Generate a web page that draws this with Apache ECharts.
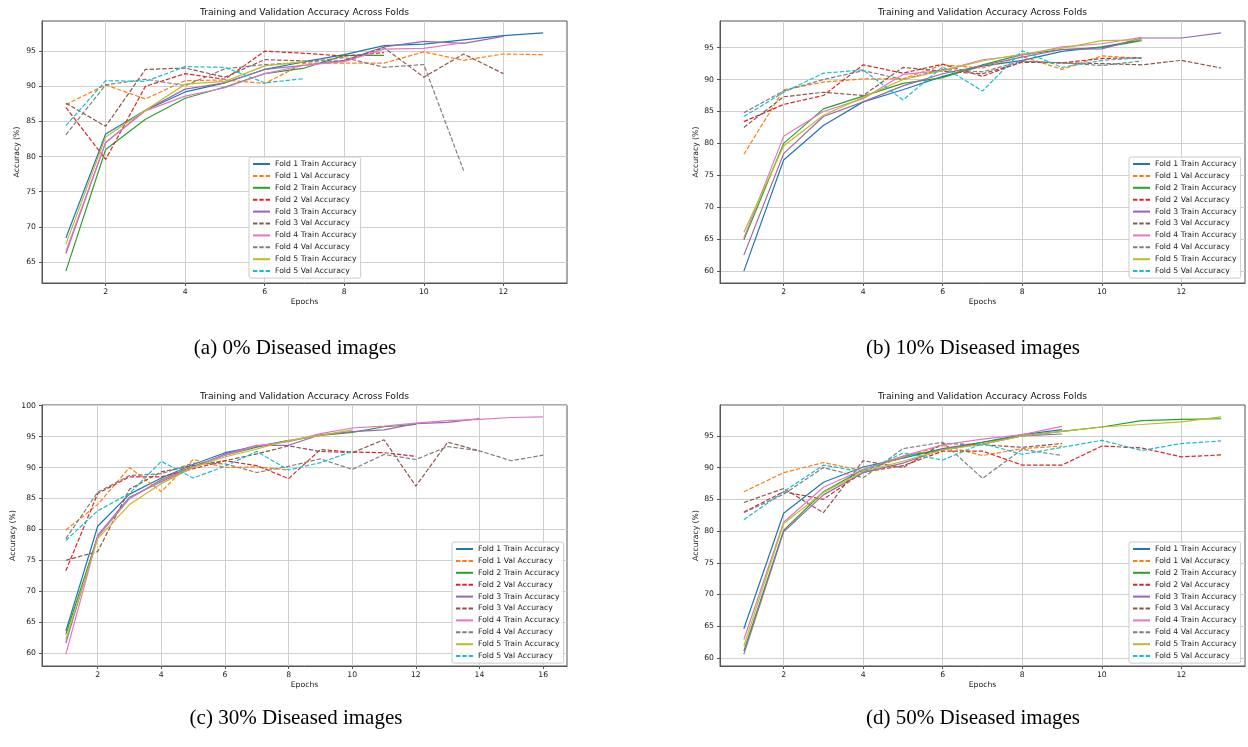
<!DOCTYPE html>
<html>
<head>
<meta charset="utf-8">
<title>Training and Validation Accuracy Across Folds</title>
<script src="https://cdn.jsdelivr.net/npm/echarts@6/dist/echarts.min.js"></script>
<style>
html,body{margin:0;padding:0;background:#fff;}
#chartmain{width:1248px;height:747px;}
</style>
</head>
<body>
<div id="chartmain"></div>
<script>
var seriesNames=['Fold 1 Train Accuracy','Fold 1 Val Accuracy','Fold 2 Train Accuracy','Fold 2 Val Accuracy',
	'Fold 3 Train Accuracy','Fold 3 Val Accuracy','Fold 4 Train Accuracy','Fold 4 Val Accuracy',
	'Fold 5 Train Accuracy','Fold 5 Val Accuracy'];
var colors=['#1f77b4','#ff7f0e','#2ca02c','#d62728','#9467bd','#8c564b','#e377c2','#7f7f7f','#bcbd22','#17becf'];
var captions=['(a) 0% Diseased images','(b) 10% Diseased images','(c) 30% Diseased images','(d) 50% Diseased images'];

// (a) 0% diseased, one list per fold, epoch 1..n
var train0=[
	[68.4,83.2,86.6,89.2,90.5,92.4,93.5,94.5,95.8,96.0,96.6,97.2,97.6],
	[63.7,81.0,85.3,88.3,89.9,91.8,92.6,94.4,94.4],
	[66.2,82.0,86.6,89.6,90.5,92.4,93.0,93.7,95.6,96.4,96.1,97.1],
	[66.5,82.0,86.5,88.6,89.8,91.8,93.0,93.5,95.3,95.4,96.2],
	[67.5,82.8,86.6,90.3,90.7,92.9,93.5]
];
var val0=[
	[87.4,90.2,88.2,90.8,90.9,90.4,93.3,93.3,93.3,94.9,93.7,94.6,94.5],
	[87.0,79.6,90.0,91.8,91.0,95.0,94.7,94.3,94.8],
	[87.6,84.3,92.4,92.6,91.3,93.8,93.6,93.6,95.5,91.3,94.6,91.8],
	[83.1,90.2,91.0,90.1,92.5,93.1,93.4,94.1,92.7,93.1,78.0],
	[84.4,90.8,90.7,92.8,92.7,90.5,91.1]
];
// (b) 10% diseased
var train10=[
	[60.0,77.4,82.8,86.5,88.4,90.5,92.1,93.0,94.4,95.1,96.2],
	[64.9,80.0,85.4,87.4,89.4,90.3,92.3,93.9,94.7,95.0,96.1],
	[62.5,78.4,84.2,86.5,89.0,90.9,92.2,93.5,94.7,94.8,96.5,96.5,97.3],
	[65.2,81.1,85.0,87.0,90.8,91.4,93.1,93.8,95.1,95.6,96.6],
	[66.1,79.6,84.4,87.2,90.0,91.4,92.9,94.0,94.9,96.1,96.2]
];
var val10=[
	[78.3,88.4,89.6,90.1,90.1,92.3,91.8,93.6,91.6,93.7,93.3],
	[83.4,86.1,87.5,92.3,91.0,92.4,90.5,92.8,92.6,93.3,93.4],
	[82.5,87.3,88.0,87.5,91.9,91.3,90.9,92.7,92.6,92.5,92.3,93.0,91.8],
	[84.8,88.2,90.0,91.4,90.0,91.6,91.2,92.9,92.6,92.2,92.9],
	[84.2,88.0,91.0,91.5,86.8,92.0,88.2,94.5,91.9,93.0,93.4]
];
// (c) 30% diseased
var train30=[
	[63.5,80.5,85.7,88.3,90.5,92.4,93.4,94.4],
	[63.0,78.8,85.0,88.0,90.2,92.0,93.3,94.3,95.2,95.7,96.6,97.0],
	[61.6,79.0,85.2,87.7,90.0,92.2,93.6,93.6,95.3,95.8,96.1,97.1,97.3,97.9],
	[59.8,78.8,85.0,87.9,90.1,92.0,93.5,94.2,95.5,96.4,96.7,97.2,97.6,97.8,98.1,98.2],
	[62.2,78.5,84.0,87.4,90.0,91.7,93.0,94.4,95.2,96.1]
];
var val30=[
	[79.9,84.0,90.0,86.1,91.3,90.0,90.1,89.6],
	[73.3,85.8,88.5,88.5,89.8,91.1,90.3,88.2,92.9,92.5,92.4,91.8],
	[75.0,76.4,86.5,89.3,90.3,91.1,92.2,93.5,92.6,92.4,94.5,87.0,94.1,92.7],
	[78.5,86.0,88.7,89.0,90.7,90.6,89.2,90.2,91.4,89.7,92.1,91.3,93.4,92.7,91.1,92.0],
	[78.2,83.0,85.8,91.0,88.3,90.2,92.6,89.6,90.8,92.6]
];
// (d) 50% diseased
var train50=[
	[64.6,82.8,87.7,90.1,91.5,93.0,94.0,95.2,96.0],
	[61.1,80.1,86.2,89.7,91.8,92.8,94.0,95.0,95.7,96.4,97.4,97.6,97.7],
	[60.6,79.9,85.7,89.2,90.7,92.9,93.7,95.0,95.3],
	[62.9,81.4,86.9,89.7,91.8,93.6,94.5,95.2,96.5],
	[61.9,81.2,86.1,89.4,91.0,92.8,93.7,95.0,95.7,96.4,96.8,97.2,98.0]
];
var val50=[
	[86.2,89.2,90.8,89.5,91.6,93.5,91.9,93.0,93.4],
	[83.0,86.2,85.0,89.3,90.3,92.6,92.6,90.4,90.4,93.4,93.1,91.7,92.0],
	[84.5,86.7,82.9,91.1,90.0,93.8,93.6,93.2,93.8],
	[82.9,85.8,90.0,88.4,93.0,94.0,88.3,92.9,91.9],
	[81.8,86.2,90.4,89.3,92.3,91.2,93.8,92.1,93.2,94.3,92.7,93.8,94.2]
];

var xTicks0=[2,4,6,8,10,12], yTicks0=[65,70,75,80,85,90,95];
var xTicks10=[2,4,6,8,10,12], yTicks10=[60,65,70,75,80,85,90,95];
var xTicks30=[2,4,6,8,10,12,14,16], yTicks30=[60,65,70,75,80,85,90,95,100];
var xTicks50=[2,4,6,8,10,12], yTicks50=[60,65,70,75,80,85,90,95];

var panels=[
	{train:train0, val:val0, xTicks:xTicks0, yTicks:yTicks0, left:42, top:21, width:525, height:262, legendLeft:249, legendTop:157, nameGap:21, capX:295, capY:348},
	{train:train10, val:val10, xTicks:xTicks10, yTicks:yTicks10, left:720, top:21, width:525, height:262, legendLeft:1129, legendTop:157, nameGap:20, capX:973, capY:348},
	{train:train30, val:val30, xTicks:xTicks30, yTicks:yTicks30, left:42, top:405, width:525, height:261, legendLeft:452, legendTop:542, nameGap:25, capX:296, capY:718},
	{train:train50, val:val50, xTicks:xTicks50, yTicks:yTicks50, left:720, top:405, width:525, height:261, legendLeft:1129, legendTop:542, nameGap:20, capX:973, capY:718}
];

var tickFont={fontSize:7.7, color:'#222', fontFamily:'DejaVu Sans'};

function toPoints(list){
	var pts=[];
	for(var i=0;i<list.length;i++){ pts.push([i+1, list[i]]); }
	return pts;
}
// matplotlib style 5% auto margins
function padRange(lo,hi){
	var m=(hi-lo)*0.05;
	return [lo-m, hi+m];
}

function InitChart(){
	var grids=[],xAxes=[],yAxes=[],legends=[],series=[],graphics=[];
	for(var p=0;p<panels.length;p++){
		var pn=panels[p];
		var maxEpoch=0,lo=1000,hi=-1000;
		var all=pn.train.concat(pn.val);
		for(var k=0;k<all.length;k++){
			maxEpoch=Math.max(maxEpoch, all[k].length);
			lo=Math.min(lo, Math.min.apply(null, all[k]));
			hi=Math.max(hi, Math.max.apply(null, all[k]));
		}
		var xr=padRange(1,maxEpoch), yr=padRange(lo,hi);
		grids.push({left:pn.left, top:pn.top, width:pn.width, height:pn.height, show:true,
			borderColor:'#555', borderWidth:1, backgroundColor:'transparent'});
		xAxes.push({
			gridIndex:p, type:'value', min:xr[0], max:xr[1],
			name:'Epochs', nameLocation:'middle', nameGap:15, nameTextStyle:tickFont,
			axisLine:{show:true, lineStyle:{color:'#555', width:1}},
			axisTick:{show:true, inside:false, length:3, lineStyle:{color:'#555'}, customValues:pn.xTicks},
			axisLabel:{customValues:pn.xTicks, margin:5, fontSize:7.7, color:'#222', fontFamily:'DejaVu Sans'},
			splitLine:{show:true, lineStyle:{color:'#cfcfcf', width:1}}
		});
		yAxes.push({
			gridIndex:p, type:'value', min:yr[0], max:yr[1],
			name:'Accuracy (%)', nameLocation:'middle', nameGap:pn.nameGap, nameTextStyle:tickFont,
			axisLine:{show:true, lineStyle:{color:'#555', width:1}},
			axisTick:{show:true, inside:false, length:3, lineStyle:{color:'#555'}, customValues:pn.yTicks},
			axisLabel:{customValues:pn.yTicks, margin:6, fontSize:7.7, color:'#222', fontFamily:'DejaVu Sans'},
			splitLine:{show:true, lineStyle:{color:'#cfcfcf', width:1}}
		});
		legends.push({
			left:pn.legendLeft, top:pn.legendTop, orient:'vertical', data:seriesNames,
			itemWidth:17, itemHeight:8, itemGap:3.9, padding:[3,4,3,3],
			itemStyle:{opacity:0},
			backgroundColor:'rgba(255,255,255,0.8)', borderColor:'#cccccc', borderWidth:1, borderRadius:2,
			textStyle:tickFont, selectedMode:false
		});
		for(var f=0;f<5;f++){
			series.push({
				name:seriesNames[2*f], type:'line', xAxisIndex:p, yAxisIndex:p,
				data:toPoints(pn.train[f]), symbol:'none', silent:true,
				lineStyle:{color:colors[2*f], width:1.2, type:'solid'}, itemStyle:{color:colors[2*f]}
			});
			series.push({
				name:seriesNames[2*f+1], type:'line', xAxisIndex:p, yAxisIndex:p,
				data:toPoints(pn.val[f]), symbol:'none', silent:true,
				lineStyle:{color:colors[2*f+1], width:1.2, type:[4.4,1.9]}, itemStyle:{color:colors[2*f+1]}
			});
		}
		graphics.push({type:'text', silent:true, style:{
			text:'Training and Validation Accuracy Across Folds', x:pn.left+pn.width/2, y:pn.top-8.5,
			textAlign:'center', textVerticalAlign:'middle', font:'9.2px "DejaVu Sans"', fill:'#111'}});
		graphics.push({type:'text', silent:true, style:{
			text:captions[p], x:pn.capX, y:pn.capY,
			textAlign:'center', textVerticalAlign:'middle', font:'21px "Liberation Serif"', fill:'#000'}});
	}
	var option={
		animation:false,
		backgroundColor:'#fff',
		grid:grids, xAxis:xAxes, yAxis:yAxes, legend:legends,
		series:series, graphic:graphics
	};
	var myChart=echarts.init(document.getElementById('chartmain'));
	myChart.setOption(option);
}
InitChart();
</script>
</body>
</html>
